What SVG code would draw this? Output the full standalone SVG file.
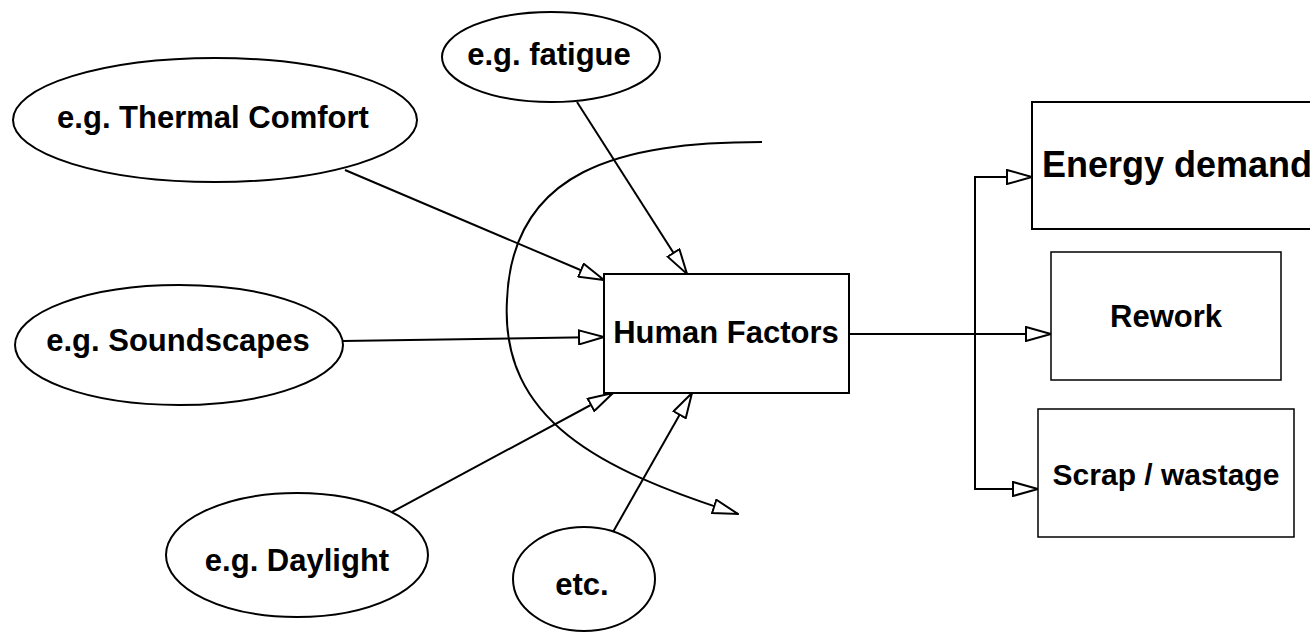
<svg xmlns="http://www.w3.org/2000/svg" width="1310" height="644" viewBox="0 0 1310 644">
  <style>
    .shape { fill: #ffffff; stroke: #000000; stroke-width: 2; }
    .label { font-family: "Liberation Sans", Arial, sans-serif; font-weight: bold; font-size: 31px; fill: #000000; text-anchor: middle; }
    .conn { fill: none; stroke: #000000; stroke-width: 2; marker-end: url(#open-arrow); }
  </style>
  <defs>
    <marker id="open-arrow" markerUnits="userSpaceOnUse" viewBox="0 0 27 16" refX="26" refY="8" markerWidth="27" markerHeight="16" orient="auto">
      <path d="M1,1 L26,8 L1,15 Z" fill="#ffffff" stroke="#000000" stroke-width="2"/>
    </marker>
  </defs>
  <rect width="1310" height="644" fill="#ffffff"/>

  <!-- connectors -->
  <g id="connectors">
    <path class="conn" d="M762,142 C620,142 512,170 507,300 C500,420 600,470 738,514"/>
    <path class="conn" d="M577,102 L687,274"/>
    <path class="conn" d="M345,170 L604,280"/>
    <path class="conn" d="M343,341 L604,337"/>
    <path class="conn" d="M392,512 L613,393"/>
    <path class="conn" d="M613,532 L692,393"/>
    <path class="conn" d="M849,334 H1051"/>
    <path class="conn" d="M975,334 V177 H1032"/>
    <path class="conn" d="M975,334 V489 H1038"/>
  </g>

  <!-- influencing factors -->
  <g id="node-fatigue">
    <ellipse class="shape" cx="551" cy="57" rx="109" ry="45"/>
    <text class="label" x="549" y="65">e.g. fatigue</text>
  </g>
  <g id="node-thermal">
    <ellipse class="shape" cx="215" cy="120" rx="202" ry="62"/>
    <text class="label" x="213" y="128">e.g. Thermal Comfort</text>
  </g>
  <g id="node-soundscapes">
    <ellipse class="shape" cx="179" cy="345" rx="164" ry="60"/>
    <text class="label" x="178" y="351">e.g. Soundscapes</text>
  </g>
  <g id="node-daylight">
    <ellipse class="shape" cx="297" cy="555" rx="131" ry="62"/>
    <text class="label" x="297" y="571">e.g. Daylight</text>
  </g>
  <g id="node-etc">
    <ellipse class="shape" cx="584" cy="579" rx="71" ry="52"/>
    <text class="label" x="582" y="595">etc.</text>
  </g>

  <!-- central node -->
  <g id="node-human-factors">
    <rect class="shape" x="604" y="274" width="245" height="119"/>
    <text class="label" x="726" y="343">Human Factors</text>
  </g>

  <!-- outcomes -->
  <g id="node-energy">
    <rect class="shape" x="1032" y="102" width="290" height="127"/>
    <text class="label" x="1042" y="177" style="font-size:36px; text-anchor:start">Energy demand</text>
  </g>
  <g id="node-rework">
    <rect class="shape" x="1051" y="252" width="230" height="128" style="stroke-width:1.5"/>
    <text class="label" x="1166" y="327">Rework</text>
  </g>
  <g id="node-scrap">
    <rect class="shape" x="1038" y="409" width="256" height="128" style="stroke-width:1.5"/>
    <text class="label" x="1166" y="485" style="font-size:30px">Scrap / wastage</text>
  </g>
</svg>
